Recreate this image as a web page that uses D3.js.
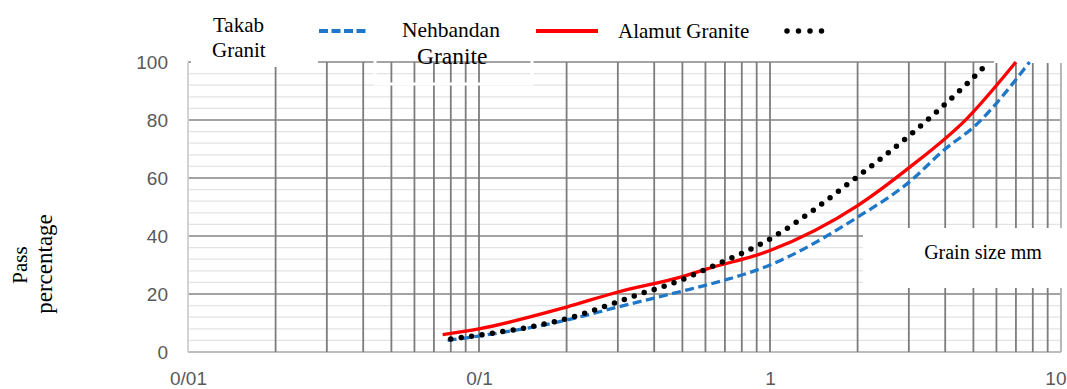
<!DOCTYPE html>
<html>
<head>
<meta charset="utf-8">
<script src="https://cdn.jsdelivr.net/npm/d3@7"></script>
<style>
  html, body { margin: 0; padding: 0; background: #ffffff; }
  svg { display: block; }
</style>
</head>
<body>
<svg id="chart" width="1067" height="389"></svg>
<script>
// ---------------- data ----------------
const xTickValues = [0.01, 0.1, 1, 10];
const xTickLabels = ["0/01", "0/1", "1", "10"];
const yTickValues = [0, 20, 40, 60, 80, 100];

const nehbandanSize = [0.078, 0.1, 0.2, 0.3, 0.5, 0.6, 1, 2, 3, 4, 5, 7.8];
const nehbandanPass = [4, 5.5, 11, 15.5, 21, 23, 30, 46.5, 58.5, 70, 77.5, 100];

const alamutSize = [0.075, 0.1, 0.2, 0.3, 0.5, 0.6, 1, 2, 3, 4.75, 7];
const alamutPass = [6, 8, 15.5, 20.7, 26, 28.5, 35, 50.5, 63.5, 80.5, 100];

const takabSize = [0.08, 0.1, 0.2, 0.35, 0.5, 0.6, 1, 2, 3, 4.75, 5.4];
const takabPass = [4.5, 5.8, 11.5, 19.7, 25, 28.5, 39, 60.5, 74.5, 92.5, 98];

// ---------------- layout ----------------
const svg = d3.select("#chart");
const x = d3.scaleLog().domain([0.01, 10]).range([188, 1061]);
const y = d3.scaleLinear().domain([0, 100]).range([352, 62]);

const minorY = d3.range(0, 101, 4).filter(v => v % 20 !== 0);
const vLines = [];
[0.01, 0.1, 1].forEach(d => { for (let k = 2; k <= 10; k++) vLines.push(d * k); });

const grid = svg.append("g");
grid.selectAll(".minorY").data(minorY).enter().append("line")
  .attr("x1", x(0.01)).attr("x2", x(10))
  .attr("y1", d => y(d)).attr("y2", d => y(d))
  .attr("stroke", "#e3e3e3").attr("stroke-width", 1.3);
grid.selectAll(".majorY").data(yTickValues).enter().append("line")
  .attr("x1", x(0.01)).attr("x2", x(10))
  .attr("y1", d => y(d)).attr("y2", d => y(d))
  .attr("stroke", d => d === 0 ? "#bdbdbd" : "#a4a4a4").attr("stroke-width", 1.9);
grid.append("line")
  .attr("x1", x(0.01)).attr("x2", x(0.01)).attr("y1", y(0)).attr("y2", y(100))
  .attr("stroke", "#cfcfcf").attr("stroke-width", 1.8);
grid.selectAll(".vx").data(vLines).enter().append("line")
  .attr("x1", d => x(d)).attr("x2", d => x(d))
  .attr("y1", y(0)).attr("y2", y(100))
  .attr("stroke", d => Math.abs(d - 10) < 1e-9 ? "#b0b0b0" : "#7d7d7d").attr("stroke-width", 1.8);

// white text boxes covering the grid
const covers = svg.append("g");
covers.append("rect").attr("x", 191).attr("y", 0).attr("width", 127).attr("height", 67).attr("fill", "#fff");
covers.append("rect").attr("x", 375).attr("y", 20).attr("width", 157).attr("height", 64)
  .attr("fill", "none").attr("stroke", "#fff").attr("stroke-width", 3);
covers.append("rect").attr("x", 994).attr("y", 58).attr("width", 73).attr("height", 5).attr("fill", "#fff");
covers.append("rect").attr("x", 863).attr("y", 228).attr("width", 204).attr("height", 60).attr("fill", "#fff");

// axes labels
const fontTick = "'Liberation Sans', Arial, sans-serif";
const yAxis = svg.append("g").attr("transform", `translate(${x(0.01)},0)`)
  .call(d3.axisLeft(y).tickValues(yTickValues).tickSize(0).tickPadding(20));
yAxis.select(".domain").remove();
yAxis.selectAll("text").attr("font-family", fontTick).attr("font-size", 19).attr("fill", "#595959");

const xAxis = svg.append("g").attr("transform", `translate(0,${y(0)})`)
  .call(d3.axisBottom(x).tickValues(xTickValues).tickSize(0).tickPadding(20)
    .tickFormat((d, i) => xTickLabels[i]));
xAxis.select(".domain").remove();
xAxis.selectAll("text").attr("font-family", fontTick).attr("font-size", 19).attr("fill", "#595959");
// keep the last label inside the picture
xAxis.selectAll(".tick").filter(d => d === 10).select("text")
  .attr("text-anchor", "end").attr("x", 1066 - x(10));

// ---------------- curves ----------------
const line = d3.line().x(d => x(d[0])).y(d => y(d[1])).curve(d3.curveMonotoneX);
const series = [
  { size: nehbandanSize, pass: nehbandanPass, color: "#1f77c8", width: 3.3, dash: "9,4.5", cap: "butt" },
  { size: alamutSize, pass: alamutPass, color: "#ff0000", width: 3.3, dash: null, cap: "butt" },
  { size: takabSize, pass: takabPass, color: "#000000", width: 5.5, dash: "0,10.5", cap: "round" }
];
svg.append("g").selectAll("path").data(series).enter().append("path")
  .attr("d", s => line(s.size.map((v, i) => [v, s.pass[i]])))
  .attr("fill", "none")
  .attr("stroke", s => s.color)
  .attr("stroke-width", s => s.width)
  .attr("stroke-dasharray", s => s.dash)
  .attr("stroke-linecap", s => s.cap);

// ---------------- legend & titles ----------------
const serif = "'Liberation Serif', 'Times New Roman', serif";
const lg = svg.append("g").attr("font-family", serif).attr("fill", "#000");
lg.append("text").attr("x", 213).attr("y", 32).attr("font-size", 21).text("Takab");
lg.append("text").attr("x", 212).attr("y", 57).attr("font-size", 21).text("Granit");
lg.append("line").attr("x1", 319).attr("x2", 366).attr("y1", 31).attr("y2", 31)
  .attr("stroke", "#1f77c8").attr("stroke-width", 4).attr("stroke-dasharray", "9,3.5");
lg.append("text").attr("x", 402).attr("y", 37).attr("font-size", 21.5).text("Nehbandan");
lg.append("text").attr("x", 417).attr("y", 64).attr("font-size", 23.5).text("Granite");
lg.append("line").attr("x1", 536).attr("x2", 598).attr("y1", 31).attr("y2", 31)
  .attr("stroke", "#ff0000").attr("stroke-width", 4);
lg.append("text").attr("x", 618).attr("y", 38).attr("font-size", 21).text("Alamut Granite");
lg.append("line").attr("x1", 787).attr("x2", 822).attr("y1", 31).attr("y2", 31)
  .attr("stroke", "#000").attr("stroke-width", 5.5).attr("stroke-linecap", "round")
  .attr("stroke-dasharray", "0,11.5");

lg.append("text").attr("x", 983).attr("y", 259).attr("font-size", 20)
  .attr("text-anchor", "middle").text("Grain size mm");

lg.append("text").attr("transform", "translate(27,265) rotate(-90)")
  .attr("text-anchor", "middle").attr("font-size", 21).text("Pass");
lg.append("text").attr("transform", "translate(52,264) rotate(-90)")
  .attr("text-anchor", "middle").attr("font-size", 23).text("percentage");
</script>
</body>
</html>
